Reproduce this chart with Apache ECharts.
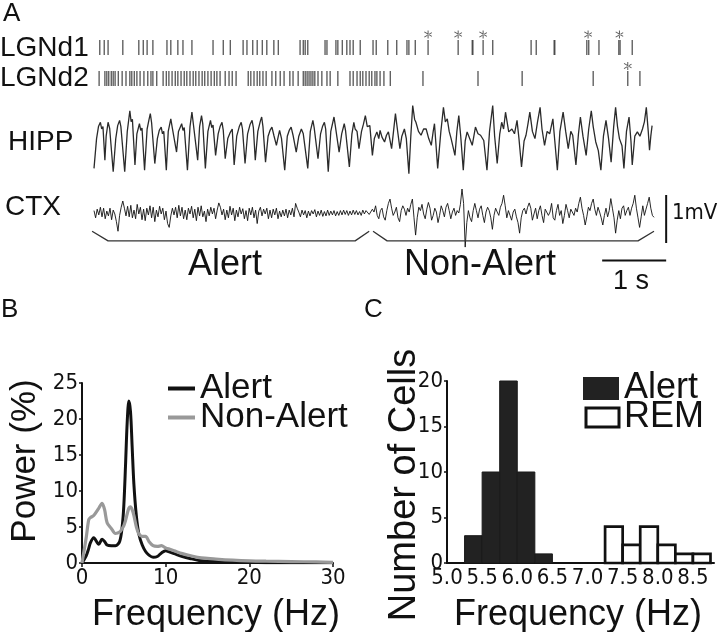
<!DOCTYPE html>
<html>
<head>
<meta charset="utf-8">
<script src="https://cdn.jsdelivr.net/npm/echarts@6/dist/echarts.min.js"></script>
<style>
  html, body { margin: 0; padding: 0; background: #fff; }
  #chart { width: 720px; height: 632px; }
</style>
</head>
<body>
<div id="chart"></div>
<script>
// ---- panel A: spike times (s) ----
const lgnd1Spikes = [0.09, 0.16, 0.22, 0.45, 0.70, 0.77, 0.83, 0.92, 1.14, 1.20, 1.31, 1.39, 1.53, 1.86, 2.02, 2.13,
  2.33, 2.39, 2.48, 2.55, 2.63, 2.70, 2.81, 2.88, 3.22, 3.27, 3.30, 3.34, 3.61, 3.64, 3.78, 3.81, 3.88, 3.95, 4.00, 4.05,
  4.16, 4.36, 4.41, 4.59, 4.73, 4.89, 4.92, 5.02, 5.22, 5.69, 5.91, 5.92, 6.08, 6.23, 6.83, 6.91, 7.19, 7.20,
  7.70, 7.73, 7.89, 8.20, 8.22, 8.41];
const lgnd2Spikes = [0.08, 0.17, 0.20, 0.23, 0.27, 0.30, 0.33, 0.38, 0.44, 0.50, 0.56, 0.59, 0.63, 0.67, 0.72, 0.78,
  0.84, 0.89, 0.92, 0.98, 1.08, 1.13, 1.17, 1.22, 1.27, 1.31, 1.36, 1.41, 1.45, 1.50, 1.55, 1.59, 1.64, 1.69, 1.73,
  1.78, 1.83, 1.88, 1.92, 1.97, 2.05, 2.11, 2.16, 2.22, 2.41, 2.45, 2.50, 2.55, 2.59, 2.64, 2.69, 2.78, 2.84, 2.91,
  2.97, 3.06, 3.11, 3.19, 3.27, 3.30, 3.33, 3.36, 3.39, 3.42, 3.45, 3.50, 3.56, 3.64, 3.69, 3.81, 4.00, 4.05, 4.11,
  4.16, 4.20, 4.25, 4.30, 4.34, 4.39, 4.42, 4.47, 4.53, 4.63, 5.14, 6.00, 6.69, 7.80, 8.34, 8.53];
const lgnd1Stars = [5.22, 5.69, 6.08, 7.72, 8.21];
const lgnd2Stars = [8.34];

// hippocampal trace [time s, mV]
const hippTrace = [[0.00,-0.57],[0.04,0.05],[0.07,0.30],[0.10,0.39],[0.12,0.25],[0.14,0.30],[0.17,-0.40],
  [0.19,0.10],[0.22,0.39],[0.245,0.26],[0.26,0.30],[0.30,-0.64],[0.34,0.05],[0.37,0.32],[0.40,0.43],[0.42,0.30],
  [0.44,0.34],[0.48,-0.64],[0.52,0.20],[0.56,0.63],[0.58,0.40],[0.60,0.45],[0.64,-0.50],[0.67,0.15],[0.71,0.36],
  [0.73,0.22],[0.75,0.27],[0.79,-0.61],[0.83,0.25],[0.86,0.45],[0.88,0.57],[0.90,0.38],[0.92,0.42],[0.95,-0.47],
  [0.99,0.05],[1.02,0.22],[1.05,0.29],[1.07,0.15],[1.09,0.20],[1.13,-0.61],[1.16,0.20],[1.20,0.46],[1.22,0.30],
  [1.25,0.33],[1.29,-0.23],[1.32,0.20],[1.37,0.36],[1.39,0.22],[1.41,0.28],[1.46,-0.61],[1.50,0.30],[1.53,0.60],
  [1.55,0.38],[1.58,0.40],[1.62,-0.40],[1.65,0.30],[1.68,0.53],[1.70,0.35],[1.74,-0.57],[1.78,0.20],[1.82,0.43],
  [1.84,0.28],[1.86,0.33],[1.90,-0.30],[1.94,0.15],[1.97,0.30],[2.00,0.39],[2.02,0.22],[2.05,-0.37],[2.09,0.05],
  [2.13,0.18],[2.16,0.25],[2.19,-0.50],[2.23,0.10],[2.27,0.30],[2.30,0.39],[2.32,0.25],[2.36,-0.47],[2.40,0.15],
  [2.44,0.35],[2.47,0.43],[2.49,0.28],[2.52,-0.40],[2.56,0.20],[2.60,0.42],[2.62,0.50],[2.64,0.30],[2.68,-0.44],
  [2.72,0.10],[2.75,0.22],[2.78,0.29],[2.81,0.12],[2.85,-0.09],[2.88,0.10],[2.90,0.22],[2.93,0.05],[2.98,-0.61],
  [3.02,0.10],[3.05,0.22],[3.08,0.29],[3.11,0.12],[3.16,-0.23],[3.20,0.10],[3.24,0.25],[3.27,0.15],[3.30,0.18],
  [3.34,-0.57],[3.38,0.20],[3.42,0.43],[3.44,0.28],[3.46,0.30],[3.50,-0.37],[3.54,0.15],[3.57,0.30],[3.60,0.39],
  [3.62,0.25],[3.66,-0.64],[3.70,0.20],[3.75,0.50],[3.77,0.32],[3.79,0.35],[3.83,-0.23],[3.87,0.15],[3.91,0.36],
  [3.93,0.22],[3.95,0.26],[3.99,-0.54],[4.03,0.15],[4.06,0.39],[4.08,0.25],[4.11,0.20],[4.14,-0.16],[4.18,0.20],
  [4.21,0.35],[4.24,0.53],[4.27,0.30],[4.31,0.32],[4.35,-0.30],[4.38,0.05],[4.42,0.19],[4.45,0.05],[4.47,0.22],
  [4.50,0.08],[4.54,-0.02],[4.57,0.12],[4.60,0.19],[4.65,-0.16],[4.68,0.20],[4.71,0.57],[4.74,0.25],[4.78,-0.16],
  [4.81,0.10],[4.85,0.25],[4.88,0.05],[4.92,-0.68],[4.95,0.10],[4.98,0.74],[5.01,0.45],[5.03,0.39],[5.07,0.20],
  [5.11,0.12],[5.15,0.25],[5.19,0.25],[5.23,0.05],[5.27,-0.09],[5.30,0.20],[5.32,0.36],[5.37,-0.57],[5.42,0.20],
  [5.46,0.70],[5.49,0.40],[5.52,0.46],[5.55,0.20],[5.58,0.05],[5.64,-0.30],[5.67,0.20],[5.70,0.53],[5.73,0.10],
  [5.77,-0.61],[5.80,0.00],[5.83,0.19],[5.87,0.05],[5.91,-0.09],[5.96,0.29],[6.00,0.15],[6.04,0.12],[6.09,0.01],
  [6.14,-0.61],[6.18,0.20],[6.23,0.74],[6.26,0.10],[6.30,-0.47],[6.34,0.15],[6.37,0.39],[6.40,0.25],[6.43,0.60],
  [6.48,0.19],[6.53,0.25],[6.57,0.15],[6.61,0.43],[6.64,0.05],[6.68,-0.54],[6.72,0.00],[6.75,0.12],[6.78,0.35],
  [6.81,0.60],[6.85,0.20],[6.89,0.05],[6.93,0.40],[6.97,0.70],[7.00,0.25],[7.04,-0.09],[7.08,0.20],[7.12,0.15],
  [7.17,0.46],[7.20,0.00],[7.24,-0.61],[7.28,0.20],[7.33,0.60],[7.37,0.20],[7.41,-0.16],[7.45,0.20],[7.48,0.12],
  [7.53,-0.50],[7.57,0.15],[7.60,0.50],[7.64,0.10],[7.69,-0.30],[7.73,0.25],[7.77,0.63],[7.80,0.30],[7.84,-0.02],
  [7.88,-0.20],[7.92,-0.61],[7.96,0.10],[8.00,0.43],[8.04,0.05],[8.08,-0.44],[8.12,0.30],[8.15,0.70],[8.18,0.30],
  [8.21,0.05],[8.25,-0.10],[8.28,-0.57],[8.32,0.20],[8.36,0.50],[8.39,0.00],[8.41,-0.50],[8.45,0.10],[8.49,0.19],
  [8.53,0.10],[8.57,0.25],[8.60,0.40],[8.63,0.70],[8.66,0.20],[8.68,-0.19],[8.70,0.10],[8.72,0.32]];

// cortical trace (mV), one value every ctxStep seconds
const ctxStep = 0.025;
const ctxAlert = [0.05,-0.10,0.08,-0.04,0.12,-0.08,0.10,-0.12,0.04,-0.06,
  0.10,-0.14,0.06,-0.02,-0.18,-0.38,-0.05,0.12,0.25,0.10, -0.06,0.14,-0.08,0.16,-0.10,0.06,-0.12,0.18,-0.02,0.12,
  -0.14,0.08,-0.16,0.10,-0.04,0.15,-0.10,0.12,-0.18,0.06, -0.08,0.14,-0.02,0.10,-0.14,0.04,-0.22,-0.30,-0.06,0.10,
  -0.04,0.12,-0.10,0.16,-0.06,0.12,-0.12,0.06,-0.14,0.10, -0.02,0.14,-0.10,0.08,-0.16,0.12,-0.06,0.15,-0.08,0.04,
  -0.18,0.08,-0.06,0.12,-0.02,0.10,-0.12,0.06,0.21,0.12, -0.04,0.08,-0.14,0.06,-0.10,0.14,-0.04,0.10,-0.16,0.06,
  -0.08,0.12,-0.02,0.09,-0.12,0.05,-0.16,0.10,-0.04,0.12, -0.10,0.06,-0.22,0.04,0.12,-0.06,0.08,-0.02,0.10,-0.12,
  0.06,-0.10,0.08,-0.04,0.10,-0.12,0.04,-0.08,0.06,-0.06, 0.08,-0.10,0.06,-0.04,0.10,-0.08,0.20,0.10,0.02,-0.08,
  0.06,-0.04,0.05,-0.10,0.04,-0.06,0.05,-0.02,0.07,-0.08, 0.04,-0.05,0.06,-0.07,0.03,-0.06,0.06,-0.05,0.04,-0.04,
  0.05,-0.06,0.03,-0.05,0.05,-0.04,0.06,-0.03,0.05,-0.05, 0.04,-0.04,0.06,-0.03,0.05,-0.04,0.03,-0.05,0.06,-0.02,
  0.05,0.08,-0.03];
const ctxNonAlert = [-0.05,0.08,0.02,0.15,-0.05,-0.12,0.05,0.10,-0.08,-0.15,
  0.05,0.20,0.29,0.10,-0.05,0.02,0.12,-0.10,-0.18,0.05, 0.15,0.08,-0.05,0.10,0.02,0.18,0.29,-0.10,-0.46,-0.10,
  0.12,0.05,0.18,-0.02,-0.12,0.08,0.22,0.10,-0.15,-0.05, 0.10,0.02,-0.20,-0.05,0.15,0.05,-0.08,0.12,0.20,0.05,
  -0.12,0.02,0.10,-0.05,0.05,0.00,0.18,0.50,0.20,-0.71, -0.20,0.05,-0.10,-0.18,0.05,0.20,0.05,-0.10,0.08,0.15,
  -0.05,-0.20,0.02,0.12,0.05,-0.10,-0.34,-0.05,0.10,0.02, -0.05,0.12,0.20,0.37,0.15,-0.10,0.05,-0.05,-0.15,0.02,
  0.08,-0.08,-0.20,-0.42,-0.10,0.05,0.10,-0.02,0.12,0.21, 0.10,-0.15,-0.02,0.10,-0.12,0.05,0.15,-0.05,-0.20,0.08,
  0.12,-0.05,0.02,0.20,-0.10,-0.15,0.05,0.18,-0.05,0.05, -0.22,-0.05,0.18,0.05,-0.10,0.08,0.12,-0.05,0.10,0.02,
  0.20,0.33,0.10,-0.05,-0.25,-0.08,0.12,0.05,0.20,0.29, 0.08,-0.05,0.12,0.02,-0.10,-0.25,-0.05,0.10,-0.08,0.05,
  0.30,0.10,-0.10,-0.42,-0.15,0.05,-0.12,0.10,0.15,-0.05, 0.05,0.12,-0.05,0.10,0.20,0.37,0.10,-0.10,-0.30,-0.08,
  0.15,-0.05,0.08,0.20,0.33,0.10,-0.05,-0.09];

// state brackets and scale bars [time s, mV]
const alertBracket = [[-0.03,-0.38],[0.22,-0.58],[4.08,-0.58],[4.30,-0.38]];
const nonAlertBracket = [[4.36,-0.38],[4.58,-0.58],[8.50,-0.58],[8.75,-0.38]];
const timeBar = [[7.94,-0.99],[8.94,-0.99]];
const voltBar = [[8.94,0.375],[8.94,-0.625]];

// ---- panel B: power spectra ----
const psdFreq = [0, 0.5, 0.8, 1.0, 1.4, 2.0, 2.4, 2.7, 3.0, 3.5, 4.0, 4.5, 4.8, 5.0, 5.2, 5.4, 5.6, 5.8, 6.0, 6.2, 6.5,
  6.8, 7.2, 7.6, 8.0, 8.5, 9.0, 9.5, 10, 10.5, 11, 12, 13, 14, 15, 16, 18, 20, 22, 25, 28, 30];
const psdAlert = [0, 1.0, 2.0, 2.8, 3.5, 2.6, 3.3, 3.0, 2.5, 2.4, 2.4, 3.0, 5.0, 8.0, 13.5, 19.5, 22.5, 21, 16, 11, 6.5,
  4.0, 2.5, 1.6, 1.1, 0.8, 0.9, 1.4, 1.7, 1.5, 1.3, 0.9, 0.6, 0.35, 0.25, 0.2, 0.1, 0.06, 0.05, 0.03, 0.02, 0.02];
const psdNonAlert = [0, 3.5, 6.0, 6.3, 6.6, 7.6, 8.3, 7.4, 5.6, 4.8, 4.1, 4.3, 4.8, 5.2, 5.9, 6.8, 7.6, 7.8, 7.4, 6.6,
  5.0, 4.0, 3.7, 3.7, 3.0, 2.4, 2.3, 2.4, 2.1, 1.9, 1.7, 1.3, 1.0, 0.75, 0.65, 0.55, 0.4, 0.3, 0.25, 0.2, 0.15, 0.1];

// ---- panel C: histogram of peak frequency ----
const binWidth = 0.25;
const alertBinStart = [5.25, 5.5, 5.75, 6.0, 6.25];
const alertCounts = [3, 10, 20, 10, 1];
const remBinStart = [7.25, 7.5, 7.75, 8.0, 8.25, 8.5];
const remCounts = [4, 2, 4, 2, 1, 1];

const SANS = "'Liberation Sans', Arial, sans-serif";
const NARROW = "'Liberation Sans Narrow', 'DejaVu Sans Condensed', 'Liberation Sans', sans-serif";

const chart = echarts.init(document.getElementById('chart'));

function txt(text, x, y, size, align, rotation, family) {
  return {
    type: 'text', x: x, y: y, rotation: rotation || 0,
    style: {
      text: text, font: size + 'px ' + (family || SANS), fill: '#111',
      align: align || 'left', textAlign: align || 'left',
      verticalAlign: 'middle', textVerticalAlign: 'middle'
    }
  };
}

function histItem(fill, stroke, width) {
  return function (params, api) {
    const a = api.coord([api.value(0), api.value(2)]);
    const b = api.coord([api.value(1), 0]);
    return {
      type: 'rect',
      shape: { x: a[0], y: a[1], width: b[0] - a[0], height: b[1] - a[1] },
      style: { fill: fill, stroke: stroke, lineWidth: width }
    };
  };
}

const timeX = (gi) => ({ type: 'value', gridIndex: gi, min: -0.2, max: 9, show: false });
const axisLine = { show: true, lineStyle: { color: '#111', width: 2 } };
const tickLabel = { color: '#111', fontSize: 22, fontFamily: NARROW };
const ctxTrace = ctxAlert.concat(ctxNonAlert);

const option = {
  animation: false,
  backgroundColor: '#fff',
  grid: [
    { left: 81.2, width: 588.8, top: 25, height: 70 },
    { left: 81.2, width: 588.8, top: 93, height: 96 },
    { left: 81.2, width: 588.8, top: 141, height: 144 },
    { left: 82, width: 251, top: 383, height: 180 },
    { left: 447, width: 267, top: 381, height: 182 }
  ],
  xAxis: [
    timeX(0), timeX(1), timeX(2),
    {
      type: 'value', gridIndex: 3, min: 0, max: 30, interval: 10,
      axisLine: axisLine, splitLine: { show: false },
      axisTick: { show: true, length: 4, lineStyle: { color: '#111', width: 1.5 } },
      axisLabel: Object.assign({ margin: 4 }, tickLabel)
    },
    {
      type: 'value', gridIndex: 4, min: 5.0, max: 8.8, interval: 0.5,
      axisLine: axisLine, splitLine: { show: false },
      axisTick: { show: false },
      axisLabel: Object.assign({ margin: 4, showMaxLabel: false, formatter: v => v.toFixed(1) }, tickLabel)
    }
  ],
  yAxis: [
    { type: 'value', gridIndex: 0, min: 0, max: 7, show: false },
    { type: 'value', gridIndex: 1, min: -1, max: 1, show: false },
    { type: 'value', gridIndex: 2, min: -1.5, max: 1.5, show: false },
    {
      type: 'value', gridIndex: 3, min: 0, max: 25, interval: 5,
      axisLine: axisLine, splitLine: { show: false },
      axisTick: { show: true, length: 3, lineStyle: { color: '#111', width: 1.5 } },
      axisLabel: Object.assign({ margin: 4 }, tickLabel)
    },
    {
      type: 'value', gridIndex: 4, min: 0, max: 20, interval: 5,
      axisLine: axisLine, splitLine: { show: false },
      axisTick: { show: true, length: 3, lineStyle: { color: '#111', width: 1.5 } },
      axisLabel: Object.assign({ margin: 4 }, tickLabel)
    }
  ],
  legend: [
    {
      left: 168, top: 371, padding: 0, selectedMode: false, icon: 'rect', itemWidth: 27, itemHeight: 4,
      textStyle: { fontSize: 35, lineHeight: 35, fontFamily: SANS, color: '#111' },
      formatter: () => 'Alert',
      data: [{ name: 'B-Alert', itemStyle: { color: '#111' } }]
    },
    {
      left: 168, top: 400, padding: 0, selectedMode: false, icon: 'rect', itemWidth: 27, itemHeight: 4,
      textStyle: { fontSize: 35, lineHeight: 35, fontFamily: SANS, color: '#111' },
      formatter: () => 'Non-Alert',
      data: [{ name: 'B-NonAlert', itemStyle: { color: '#999' } }]
    },
    {
      left: 583, top: 370.5, padding: 0, selectedMode: false, icon: 'rect', itemWidth: 36, itemHeight: 23,
      textStyle: { fontSize: 36, lineHeight: 35, fontFamily: SANS, color: '#111' },
      formatter: () => 'Alert',
      data: [{ name: 'C-Alert', itemStyle: { color: '#222', borderWidth: 0 } }]
    },
    {
      left: 584.5, top: 399.5, padding: 0, selectedMode: false, icon: 'rect', itemWidth: 33, itemHeight: 19,
      textStyle: { fontSize: 36, lineHeight: 35, fontFamily: SANS, color: '#111' },
      formatter: () => 'REM',
      data: [{ name: 'C-REM', itemStyle: { color: '#fff', borderColor: '#111', borderWidth: 3 } }]
    }
  ],
  series: [
    {
      name: 'LGNd1', type: 'scatter', xAxisIndex: 0, yAxisIndex: 0, symbol: 'rect', symbolSize: [1.4, 15],
      itemStyle: { color: '#3a3a3a' }, data: lgnd1Spikes.map(t => [t, 4.75])
    },
    {
      name: 'LGNd2', type: 'scatter', xAxisIndex: 0, yAxisIndex: 0, symbol: 'rect', symbolSize: [1.4, 15],
      itemStyle: { color: '#3a3a3a' }, data: lgnd2Spikes.map(t => [t, 1.65])
    },
    {
      name: 'stars', type: 'scatter', xAxisIndex: 0, yAxisIndex: 0,
      symbol: 'path://M4.4,0h1.2v10h-1.2z M0.2,2.2l0.6,-1l8.99,5.6l-0.6,1z M0.2,7.8l0.6,1l8.99,-5.6l-0.6,-1z',
      symbolSize: 8, itemStyle: { color: '#333' },
      data: lgnd1Stars.map(t => [t, 6.05]).concat(lgnd2Stars.map(t => [t, 2.9]))
    },
    {
      name: 'HIPP', type: 'line', xAxisIndex: 1, yAxisIndex: 1, symbol: 'none',
      lineStyle: { color: '#2a2a2a', width: 1.3 }, data: hippTrace
    },
    {
      name: 'CTX', type: 'line', xAxisIndex: 2, yAxisIndex: 2, symbol: 'none',
      lineStyle: { color: '#111', width: 0.9 }, data: ctxTrace.map((v, i) => [i * ctxStep, v])
    },
    {
      name: 'alertBracket', type: 'line', xAxisIndex: 2, yAxisIndex: 2, symbol: 'none',
      lineStyle: { color: '#333', width: 1.3 }, data: alertBracket
    },
    {
      name: 'nonAlertBracket', type: 'line', xAxisIndex: 2, yAxisIndex: 2, symbol: 'none',
      lineStyle: { color: '#333', width: 1.3 }, data: nonAlertBracket
    },
    {
      name: 'timeBar', type: 'line', xAxisIndex: 2, yAxisIndex: 2, symbol: 'none',
      lineStyle: { color: '#111', width: 2 }, data: timeBar
    },
    {
      name: 'voltBar', type: 'line', xAxisIndex: 2, yAxisIndex: 2, symbol: 'none',
      lineStyle: { color: '#111', width: 2 }, data: voltBar
    },
    {
      name: 'B-Alert', type: 'line', xAxisIndex: 3, yAxisIndex: 3, symbol: 'none', smooth: 0.3,
      color: '#111', lineStyle: { color: '#111', width: 3 },
      data: psdFreq.map((f, i) => [f, psdAlert[i]])
    },
    {
      name: 'B-NonAlert', type: 'line', xAxisIndex: 3, yAxisIndex: 3, symbol: 'none', smooth: 0.3,
      color: '#999', lineStyle: { color: '#999', width: 3.2 },
      data: psdFreq.map((f, i) => [f, psdNonAlert[i]])
    },
    {
      name: 'C-Alert', type: 'custom', xAxisIndex: 4, yAxisIndex: 4, color: '#222',
      renderItem: histItem('#222', '#1a1a1a', 1),
      encode: { x: [0, 1], y: 2 },
      data: alertBinStart.map((s, i) => [s, s + binWidth, alertCounts[i]])
    },
    {
      name: 'C-REM', type: 'custom', xAxisIndex: 4, yAxisIndex: 4, color: '#fff',
      renderItem: histItem('#fff', '#111', 2.7),
      encode: { x: [0, 1], y: 2 },
      data: remBinStart.map((s, i) => [s, s + binWidth, remCounts[i]])
    }
  ],
  graphic: [
    txt('A', 3, 14, 26),
    txt('LGNd1', 0, 48, 28),
    txt('LGNd2', 0, 78, 28),
    txt('HIPP', 8, 142, 28),
    txt('CTX', 5, 207, 28),
    txt('Alert', 225, 265, 36, 'center'),
    txt('Non-Alert', 480, 265, 36, 'center'),
    txt('1 s', 631, 282, 27, 'center'),
    txt('1mV', 672, 213, 22, 'left', 0, NARROW),
    txt('B', 1, 310, 26),
    txt('C', 364, 310, 26),
    txt('Power (%)', 25, 461, 35, 'center', Math.PI / 2),
    txt('Frequency (Hz)', 216, 615, 36, 'center'),
    txt('Number of Cells', 405, 485, 38, 'center', Math.PI / 2),
    txt('Frequency (Hz)', 578, 615, 36, 'center')
  ]
};

chart.setOption(option);
</script>
</body>
</html>
